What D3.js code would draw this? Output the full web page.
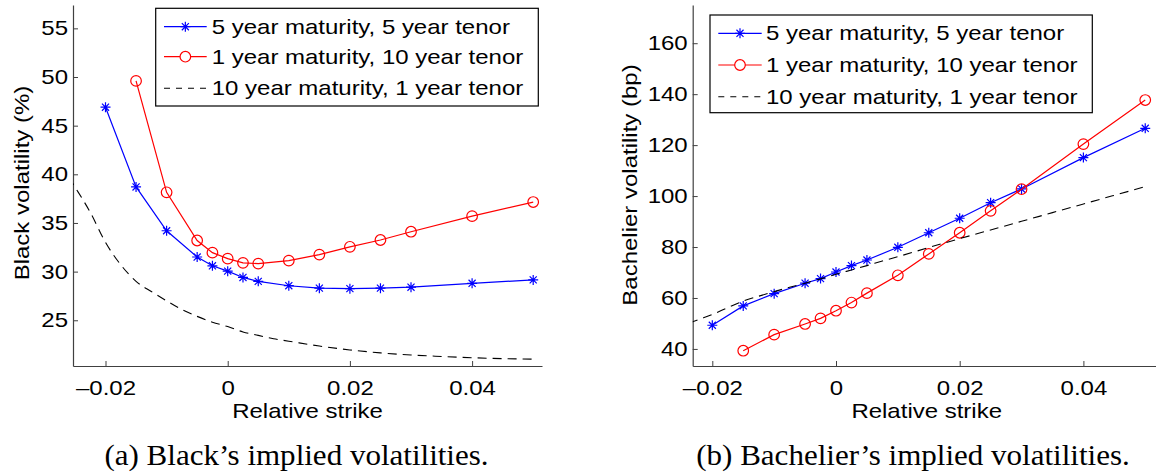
<!DOCTYPE html>
<html>
<head>
<meta charset="utf-8">
<script src="https://cdn.jsdelivr.net/npm/d3@7"></script>
<style>
body { margin: 0; background: #fff; }
svg { display: block; font-family: "Liberation Sans", Arial, sans-serif; }
</style>
</head>
<body>
<svg width="1156" height="472"></svg>
<script>

// relative strikes of the market quotes
var strikes = [-0.02, -0.015, -0.01, -0.005, -0.0025, 0, 0.0025, 0.005, 0.01, 0.015, 0.02, 0.025, 0.03, 0.04, 0.05];
var strikesShort = [-0.015, -0.01, -0.005, -0.0025, 0, 0.0025, 0.005, 0.01, 0.015, 0.02, 0.025, 0.03, 0.04, 0.05];
// finer grid for the dashed curve
var strikesFine = [-0.026, -0.025, -0.0225, -0.02, -0.0175, -0.015, -0.0125, -0.01, -0.0075, -0.005, -0.0025, 0, 0.0025, 0.005, 0.0075, 0.01, 0.015, 0.02, 0.025, 0.03, 0.035, 0.04, 0.045, 0.05];

// Black vols (%)
var black5y5y = [46.9, 38.7, 34.2, 31.5, 30.6, 30.05, 29.4, 29.0, 28.55, 28.3, 28.25, 28.3, 28.4, 28.8, 29.15];
var black1y10y = [49.6, 38.15, 33.2, 31.95, 31.33, 30.9, 30.82, 31.13, 31.75, 32.55, 33.25, 34.1, 35.7, 37.15];
var black10y1y = [39.7, 38.7, 36.1, 33.0, 30.7, 29.0, 27.95, 27.0, 26.1, 25.4, 24.8, 24.35, 23.8, 23.45, 23.1, 22.85, 22.35, 21.95, 21.65, 21.43, 21.28, 21.15, 21.06, 21.0];

// Bachelier vols (bp)
var bach5y5y = [49.3, 56.9, 61.7, 65.8, 67.6, 70.2, 72.7, 74.9, 79.9, 85.6, 91.3, 97.4, 102.8, 115.1, 126.6];
var bach1y10y = [39.3, 45.6, 49.8, 52.0, 55.0, 58.2, 61.9, 68.9, 77.3, 85.6, 94.2, 102.7, 120.4, 137.7];
var bach10y1y = [47.9, 48.9, 51.3, 53.5, 56.2, 58.8, 60.7, 62.5, 64.2, 65.8, 67.5, 69.3, 71.0, 72.7, 74.5, 76.2, 79.8, 83.3, 86.7, 90.1, 93.5, 96.9, 100.3, 103.7];

var xTicks = [-0.02, 0, 0.02, 0.04];
var blackTicks = [25, 30, 35, 40, 45, 50, 55];
var bachTicks = [40, 60, 80, 100, 120, 140, 160];
var legendLabels = ["5 year maturity, 5 year tenor", "1 year maturity, 10 year tenor", "10 year maturity, 1 year tenor"];

var svg = d3.select("svg");
var SX = 1.2;       // the original's text is drawn wide
var FS = 20;
var axisColor = "#404040";

function starPath(r) {
  var k = r * 0.707;
  return "M" + (-r) + ",0L" + r + ",0M0," + (-r) + "L0," + r +
    "M" + (-k) + "," + (-k) + "L" + k + "," + k + "M" + (-k) + "," + k + "L" + k + "," + (-k);
}

function wideText(g, x, y, str, anchor, rot) {
  return g.append("text")
    .attr("transform", "translate(" + x + "," + y + ")" + (rot ? " rotate(" + rot + ")" : "") + " scale(" + SX + ",1)")
    .attr("text-anchor", anchor)
    .style("font-size", FS + "px")
    .text(str);
}

function drawPanel(cfg, id) {
  var x = d3.scaleLinear().domain(cfg.xDom).range([cfg.x0, cfg.x1]);
  var y = d3.scaleLinear().domain(cfg.yDom).range([cfg.y1, cfg.y0]);
  var g = svg.append("g");

  g.append("clipPath").attr("id", "clip" + id)
    .append("rect").attr("x", cfg.x0).attr("y", cfg.y0)
    .attr("width", cfg.x1 - cfg.x0).attr("height", cfg.y1 - cfg.y0);

  // axes (box off, ticks inward)
  var xa = g.append("g")
      .attr("transform", "translate(0," + cfg.y1 + ")")
      .call(d3.axisBottom(x).tickValues(xTicks).tickSizeInner(-5).tickSizeOuter(0).tickPadding(15)
        .tickFormat(function(d) { return d === 0 ? "0" : d3.format(".2f")(d).replace("−", "–").replace("-", "–"); }));
  var ya = g.append("g")
      .attr("transform", "translate(" + cfg.x0 + ",0)")
      .call(d3.axisLeft(y).tickValues(cfg.yTicks).tickSizeInner(-5).tickSizeOuter(0).tickPadding(5));

  [xa, ya].forEach(function(a) {
    a.select(".domain").attr("stroke", axisColor).attr("stroke-width", 1.2);
    a.selectAll(".tick line").attr("stroke", axisColor);
    a.attr("font-family", null).attr("font-size", null);
    a.selectAll("text").style("font-size", FS + "px").attr("fill", "#000");
  });
  xa.selectAll(".tick text").each(function() {
    var t = d3.select(this);
    t.attr("transform", "translate(0," + t.attr("y") + ") scale(" + SX + ",1)").attr("y", 0);
  });
  ya.selectAll(".tick text").each(function() {
    var t = d3.select(this);
    t.attr("transform", "translate(" + t.attr("x") + ",0) scale(" + SX + ",1)").attr("x", 0);
  });

  var plot = g.append("g").attr("clip-path", "url(#clip" + id + ")");
  var line = d3.line().x(function(d) { return x(d[0]); }).y(function(d) { return y(d[1]); });

  // blue, 5y x 5y
  var blue = d3.zip(strikes, cfg.blue);
  plot.append("path").datum(blue).attr("d", line)
    .attr("fill", "none").attr("stroke", "#0000ff").attr("stroke-width", 1.2);
  plot.selectAll(".star").data(blue).enter().append("path")
    .attr("transform", function(d) { return "translate(" + x(d[0]) + "," + y(d[1]) + ")"; })
    .attr("d", starPath(5)).attr("stroke", "#0000ff").attr("stroke-width", 1.2).attr("fill", "none");

  // red, 1y x 10y
  var red = d3.zip(strikesShort, cfg.red);
  plot.append("path").datum(red).attr("d", line)
    .attr("fill", "none").attr("stroke", "#ff0000").attr("stroke-width", 1.2);
  plot.selectAll(".ring").data(red).enter().append("circle")
    .attr("cx", function(d) { return x(d[0]); }).attr("cy", function(d) { return y(d[1]); })
    .attr("r", 5.3).attr("fill", "none").attr("stroke", "#ff0000").attr("stroke-width", 1.2);

  // dashed, 10y x 1y
  plot.append("path").datum(d3.zip(strikesFine, cfg.black))
    .attr("d", line.curve(d3.curveMonotoneX))
    .attr("fill", "none").attr("stroke", "#000").attr("stroke-width", 1.1).attr("stroke-dasharray", "9,6");

  // legend
  var L = cfg.legend;
  var lg = g.append("g");
  lg.append("rect").attr("x", L.x).attr("y", L.y).attr("width", L.w).attr("height", L.h)
    .attr("fill", "#fff").attr("stroke", "#000").attr("stroke-width", 1.2);
  var mid = (L.lx0 + L.lx1) / 2;
  lg.append("line").attr("x1", L.lx0).attr("x2", L.lx1).attr("y1", L.rows[0]).attr("y2", L.rows[0])
    .attr("stroke", "#0000ff").attr("stroke-width", 1.2);
  lg.append("path").attr("transform", "translate(" + mid + "," + L.rows[0] + ")")
    .attr("d", starPath(5)).attr("stroke", "#0000ff").attr("stroke-width", 1.2);
  lg.append("line").attr("x1", L.lx0).attr("x2", L.lx1).attr("y1", L.rows[1]).attr("y2", L.rows[1])
    .attr("stroke", "#ff0000").attr("stroke-width", 1.2);
  lg.append("circle").attr("cx", mid).attr("cy", L.rows[1]).attr("r", 5.3)
    .attr("fill", "#fff").attr("stroke", "#ff0000").attr("stroke-width", 1.2);
  lg.append("line").attr("x1", L.lx0).attr("x2", L.lx1).attr("y1", L.rows[2]).attr("y2", L.rows[2])
    .attr("stroke", "#000").attr("stroke-width", 1.1).attr("stroke-dasharray", "6,6");
  legendLabels.forEach(function(s, i) {
    wideText(lg, L.tx, L.rows[i], s, "start").attr("dy", "0.35em");
  });

  // labels
  wideText(g, cfg.ylab[0], cfg.ylab[1], cfg.ylabel, "middle", -90);
  wideText(g, cfg.xlab[0], cfg.xlab[1], "Relative strike", "middle");
  g.append("text")
    .attr("transform", "translate(" + cfg.cap[0] + "," + cfg.cap[1] + ") scale(1.07,1)")
    .attr("text-anchor", "middle")
    .style("font-family", "'Liberation Serif', serif").style("font-size", "29px")
    .text(cfg.caption);
}

drawPanel({
  x0: 73, x1: 542, y0: 5, y1: 366,
  xDom: [-0.02532, 0.05144], yDom: [20.3, 57.4], yTicks: blackTicks,
  blue: black5y5y, red: black1y10y, black: black10y1y,
  legend: { x: 155.7, y: 8.3, w: 382.6, h: 97.7, rows: [26.7, 56.7, 88.3], lx0: 164, lx1: 206.7, tx: 211.7 },
  ylabel: "Black volatility (%)", ylab: [28.5, 183],
  xlab: [307.5, 418],
  caption: "(a) Black\u2019s implied volatilities.", cap: [296.5, 465]
}, "a");

drawPanel({
  x0: 692.7, x1: 1156, y0: 5, y1: 366,
  xDom: [-0.02317, 0.05174], yDom: [33.3, 175], yTicks: bachTicks,
  blue: bach5y5y, red: bach1y10y, black: bach10y1y,
  legend: { x: 710, y: 15, w: 382.3, h: 97.7, rows: [33.3, 65, 96.7], lx0: 718.3, lx1: 761.7, tx: 766 },
  ylabel: "Bachelier volatility (bp)", ylab: [636.7, 185],
  xlab: [926.7, 418],
  caption: "(b) Bachelier\u2019s implied volatilities.", cap: [913, 465]
}, "b");

</script>
</body>
</html>
